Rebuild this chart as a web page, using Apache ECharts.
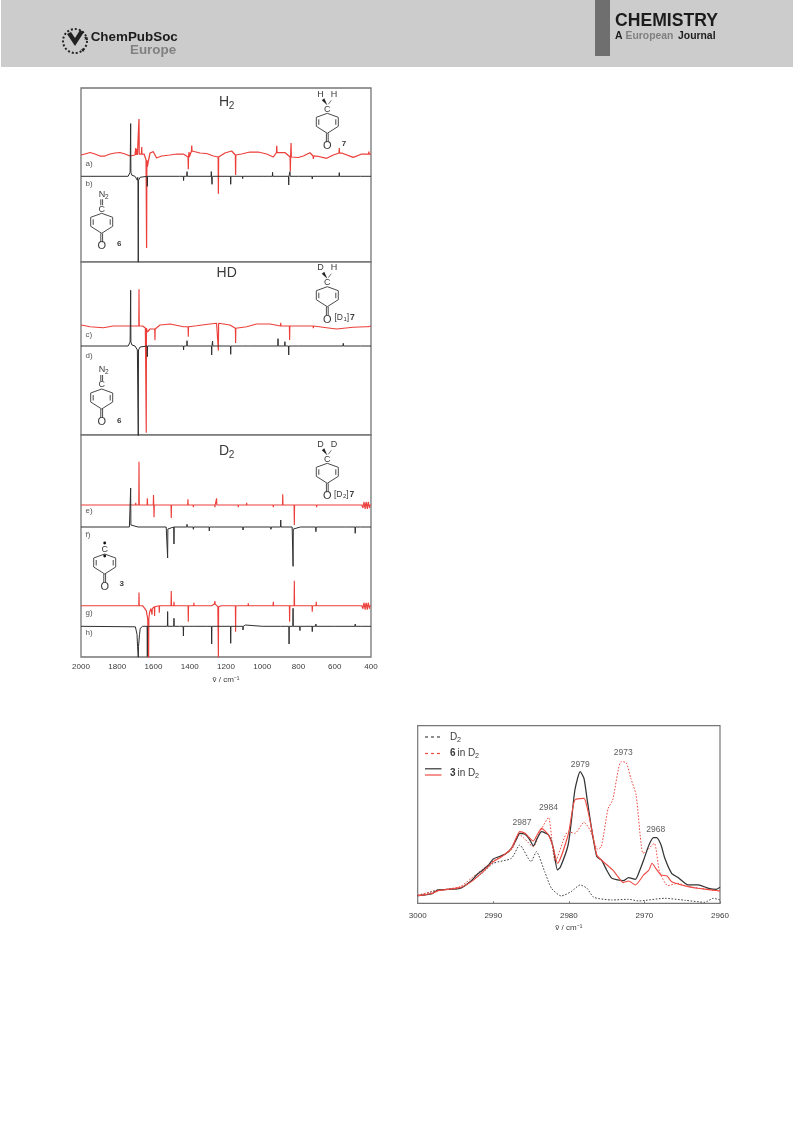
<!DOCTYPE html>
<html><head><meta charset="utf-8">
<style>html,body{margin:0;padding:0;background:#fff}#c{width:793px;height:1121px;filter:blur(0.35px)}</style>
<script src="https://cdn.jsdelivr.net/npm/echarts@6/dist/echarts.min.js"></script></head>
<body><div id="c"></div>
<script>
// ---------- Left spectra: wavenumber (cm-1) vs. band height. [wn, h] ----------
const flat = [[2000,0],[1500,0],[1000,0],[400,0]];
const aBase = [[2000,0],[1978,1],[1950,2.5],[1923,1],[1895,-1],[1868,-1],[1840,1],[1812,2],[1785,2.5],[1757,1],[1730,-1],[1702,0],[1665,1],[1652,1],[1641,-5],[1634,-12],[1627,-5],[1619,2],[1601,3.3],[1583,-3],[1555,-1],[1509,0],[1472,1],[1435,1],[1408,-2],[1380,4],[1343,2],[1307,1.5],[1270,-1],[1242,-2],[1206,2],[1169,4],[1141,0],[1114,1],[1068,3],[1022,3],[976,1],[939,-2],[911,2.5],[875,2.5],[838,-2],[801,-2.5],[773,-1],[737,2.3],[700,-1],[645,-3.3],[608,0],[562,2],[498,-2.3],[442,1],[400,1]];
const aPeaks = [[1698,7],[1690,6],[1680,35],[1665,7],[1638,-88],[1408,-12.3],[1404,5],[1389,5.5],[1242,-36.7],[1147,-20],[920,6.7],[845,-14.3],[841,14],[718,-3],[575,5],[450,2],[430,-2],[412,2.5]];
const bBase = [[2000,0],[1740,0],[1733,1],[1729,4],[1723,4],[1719,1],[1712,0],[1702,0],[1694,-1],[1689,-4],[1679,-4],[1674,-1],[1665,0],[1200,0],[800,0],[400,0]];
const bPeaks = [[1726,48.7],[1687,3],[1684,-82],[1634,-10],[1454,-2],[1434,-4.3],[1426,2],[1415,4.7],[1281,4.7],[1277,-8],[1196,1],[1174,-8],[1171,-1.3],[1108,-2.3],[994,1],[966,0.9],[943,4],[884,1.7],[854,-8.7],[847,4.7],[792,-2],[724,-2.7],[696,-1.3],[575,3.7],[498,-1],[457,1.7],[415,-0.9]];
const cBase = [[2000,1],[1950,-0.7],[1877,-1.7],[1822,0],[1730,0],[1660,0],[1645,-2],[1634,-6],[1619,-3],[1564,1],[1509,2],[1435,-0.7],[1362,0.3],[1288,2],[1252,2.7],[1178,1],[1141,-2.3],[1086,-0.7],[1031,2],[957,2],[884,0],[810,0],[737,0],[645,-1.7],[590,-3],[498,-1.3],[424,-0.7],[400,0]];
const cPeaks = [[1680,36.7],[1640,-104.7],[1592,-11.3],[1408,-10],[1242,-27.3],[1147,-14.7],[898,3.3],[871,1.2],[849,-14],[718,-2.3],[430,-1.5],[415,1]];
const dBase = bBase.map(p=>p);
const dPeaks = [[1726,51.7],[1684,-86.7],[1634,-10.7],[1454,-1.3],[1434,-4],[1415,5.3],[1279,-9],[1274,5],[1196,1],[1174,-8.3],[1171,-0.9],[1108,-1.3],[1068,1],[961,0.9],[913,7.3],[875,4.3],[854,-9],[847,1],[828,0.9],[792,-0.9],[724,-1.3],[553,2.7],[498,-1],[457,1.7],[415,-0.9]];
const ePeaks = [[1698,2.3],[1680,43.3],[1634,6.7],[1600,10],[1597,-12.3],[1502,-13],[1410,5.7],[1380,-2.3],[1292,1],[1261,-2.3],[1252,6.7],[1174,1],[1132,-2.3],[1086,2.3],[939,-2.3],[887,10.7],[823,-20],[700,-2.3],[534,1],[450,2],[444,-3],[438,3],[432,-4],[426,3],[420,-4],[414,3],[408,-3]];
const fBase = [[2000,0],[1733,0],[1729,2],[1723,2],[1719,0],[1530,0],[1526,-2],[1518,-2],[1514,0],[1200,0],[835,0],[833,-2],[827,-2],[824,0],[400,0]];
const fPeaks = [[1726,37],[1684,1.7],[1522,-29],[1487,-17],[1415,2.7],[1380,-2.3],[1292,-4],[1264,2],[1106,-3],[1055,2],[952,-2.3],[898,7],[830,-37.3],[788,-1.3],[704,-4.7],[538,1.7],[487,-6.3],[456,1],[415,-1.7]];
const gBase = [[2000,0],[1660,0],[1650,-1],[1640,-5],[1632,-13],[1622,-7],[1615,-3],[1600,-1],[1560,0],[1280,0],[1265,1.5],[1245,-1],[1225,0],[1000,0],[400,0]];
const gPeaks = [[1680,13.3],[1627,-51],[1608,-6],[1594,-9.3],[1568,-7],[1502,14.7],[1487,4],[1456,-1.5],[1408,-16],[1377,3],[1261,3],[1242,-51],[1147,-26],[1077,2.3],[939,4],[884,1.7],[849,-16],[823,25],[724,-6],[702,4],[530,1],[450,2],[444,-3],[438,3],[432,-4],[426,3],[420,-4],[414,3],[408,-3]];
const hBase = [[2000,0],[1700,-0.5],[1695,-2],[1691,-8],[1688,-20],[1680,-20],[1677,-8],[1673,-2],[1668,-0.5],[1660,0],[1300,0],[1000,0],[900,0],[600,0],[400,0]];
const hPeaks = [[1684,-11],[1634,-30.3],[1522,14.7],[1487,8],[1456,-2],[1435,-9.7],[1402,-1.2],[1380,1],[1279,-17.7],[1174,-17],[1106,-3.7],[1093,1.3],[852,-17.7],[830,18],[792,-4.3],[724,-5.3],[704,2.3],[487,2.3],[452,1.3],[415,-1]];

// ---------- Right spectra: [wavenumber, intensity] ----------
const d2Only = [[3000,23],[2997.3,40],[2994.4,45],[2991.5,90],[2990,120],[2987.6,135],[2986.5,175],[2985,125],[2984.3,155],[2983.2,95],[2982.3,45],[2981,22],[2979.7,35],[2978.5,55],[2977.6,45],[2976.7,18],[2974.3,10],[2972.1,12],[2970.8,7],[2967.3,15],[2964.6,9],[2962,3],[2960.9,15],[2960,10]];
const six = [[3000,25],[2997.3,38],[2994.4,50],[2992.9,75],[2990,127],[2987.6,160],[2986.5,205],[2984.7,170],[2983.8,215],[2982.7,258],[2981.8,125],[2980.1,215],[2979.2,210],[2978,243],[2977.2,220],[2976.2,162],[2975.7,170],[2974.8,285],[2974.2,310],[2973.1,425],[2972.4,422],[2971.8,375],[2971.1,325],[2970.2,150],[2969.8,155],[2968.7,180],[2968,95],[2966.9,53],[2965.6,60],[2964.2,50],[2960,37]];
const threeBlack = [[3000,23],[2999,25],[2998,30],[2997.3,40],[2994.4,45],[2992.9,68],[2992.2,85],[2991.5,98],[2990.6,115],[2990,133],[2989,142],[2988.4,148],[2987.6,165],[2987,190],[2986.5,210],[2985.8,207],[2985.2,192],[2984.7,172],[2984.2,195],[2983.6,215],[2982.7,205],[2982.1,170],[2981.5,100],[2981.1,110],[2980.1,175],[2979.6,260],[2979.2,340],[2978.5,395],[2978,375],[2977.6,315],[2977,225],[2976.3,140],[2975.7,130],[2975,100],[2974.3,75],[2972.8,68],[2972.1,77],[2971.2,72],[2970.6,100],[2970.1,130],[2969.4,175],[2968.8,197],[2968.4,197],[2967.8,175],[2967.3,135],[2966.4,90],[2965.6,78],[2964.2,55],[2963.6,55],[2962.9,55],[2961.5,45],[2960.5,42],[2960,48]];
const threeRed = [[3000,23],[2999,26],[2998,30],[2997.3,38],[2994.4,47],[2992.9,65],[2991.5,92],[2990,125],[2989,138],[2987.6,165],[2987,195],[2986.5,215],[2985.8,210],[2984.7,187],[2984.2,205],[2983.6,225],[2982.7,205],[2982.1,170],[2981.5,120],[2980.1,205],[2979.6,270],[2979.2,310],[2978,315],[2977.6,290],[2977,225],[2976.3,145],[2975.7,130],[2974.2,100],[2973.5,80],[2972.8,62],[2972.1,67],[2971.2,55],[2970.1,85],[2969.4,100],[2969,120],[2968.5,105],[2967.8,85],[2967,82],[2966.4,65],[2964.2,50],[2962.9,45],[2960,37]];
const peakLabels = [[2986.2,242,'2987'],[2982.7,287,'2984'],[2978.5,417,'2979'],[2972.8,452,'2973'],[2968.5,222,'2968']];
const ticksLeft = [2000,1800,1600,1400,1200,1000,800,600,400];
const ticksRight = [3000,2990,2980,2970,2960];

// ---------- Build line data from read band lists ----------
function nearest(base, x){let b=base[0];for(const p of base){if(Math.abs(p[0]-x)<Math.abs(b[0]-x))b=p;}return b[1];}
function trace(base, peaks, offset){
  const hw=1.3, pts=base.map(p=>[p[0],p[1]+offset]);
  for(const p of peaks){
    const foot=nearest(base,p[0])+offset;
    pts.push([p[0]+hw,foot],[p[0],foot+p[1]],[p[0]-hw,foot]);
  }
  return pts.sort((u,v)=>v[0]-u[0]);
}
const RED='#ec3f3a', BLK='#2f2f2f', AX='#757575';
const panels=[{top:88,h:174},{top:262,h:173},{top:435,h:222}];
const traces=[
 {p:0,base:aBase,peaks:aPeaks,off:107,c:RED,w:1.25},
 {p:0,base:bBase,peaks:bPeaks,off:85.7,c:BLK,w:1},
 {p:1,base:cBase,peaks:cPeaks,off:109,c:RED,w:1.15},
 {p:1,base:dBase,peaks:dPeaks,off:89,c:BLK,w:1},
 {p:2,base:flat,peaks:ePeaks,off:152,c:RED,w:1.15},
 {p:2,base:fBase,peaks:fPeaks,off:130,c:BLK,w:1},
 {p:2,base:gBase,peaks:gPeaks,off:51.3,c:RED,w:1.15},
 {p:2,base:hBase,peaks:hPeaks,off:30.7,c:BLK,w:1}
];
const FONT='"Liberation Sans",Arial,sans-serif';
const TXT='#3a3a3a';
const fmt=v=>String(v);
const grid=panels.map(p=>({left:81,width:290,top:p.top,height:p.h,show:true,borderColor:AX,borderWidth:1.3,backgroundColor:'#fff'}));
grid.push({left:417.7,width:302.3,top:725.7,height:177.6,show:true,borderColor:AX,borderWidth:1.2,backgroundColor:'#fff'});
const xAxis=panels.map((p,i)=>({gridIndex:i,type:'value',min:400,max:2000,interval:200,inverse:true,
  axisTick:{show:false},splitLine:{show:false},axisLine:{show:false},
  axisLabel:{show:i===2,fontFamily:FONT,fontSize:8,color:TXT,margin:6,formatter:fmt,customValues:ticksLeft},
  name:i===2?'ṽ / cm⁻¹':'',nameLocation:'middle',nameGap:19,nameTextStyle:{fontFamily:FONT,fontSize:8,color:TXT}}));
xAxis.push({gridIndex:3,type:'value',min:2960,max:3000,interval:10,inverse:true,
  axisTick:{show:true,inside:true,length:2,lineStyle:{color:AX}},splitLine:{show:false},axisLine:{show:false},
  axisLabel:{fontFamily:FONT,fontSize:8,color:TXT,margin:8,formatter:fmt,customValues:ticksRight},
  name:'ṽ / cm⁻¹',nameLocation:'middle',nameGap:20,nameTextStyle:{fontFamily:FONT,fontSize:8,color:TXT}});
const yAxis=panels.map((p,i)=>({gridIndex:i,type:'value',min:0,max:p.h,show:false}));
yAxis.push({gridIndex:3,type:'value',min:0,max:533,show:false});
const line=(i,data,c,w,dash,smooth)=>({type:'line',xAxisIndex:i,yAxisIndex:i,data,showSymbol:false,symbol:'none',silent:true,smooth:smooth||false,
  clip:true,lineStyle:{color:c,width:w,type:dash||'solid'},z:3});
const series=traces.map(t=>line(t.p,trace(t.base,t.peaks,t.off),t.c,t.w));
series.push(line(3,d2Only,'#444',1,[1.6,1.6],0.2));
series.push(line(3,six,'#ee4a42',1,[1.6,1.6],0.2));
series.push(line(3,threeBlack,'#333',1.25,'solid',0.2));
series.push(line(3,threeRed,'#ee4a42',1.1,'solid',0.2));
series.push({type:'scatter',xAxisIndex:3,yAxisIndex:3,symbolSize:0,silent:true,z:5,
  data:peakLabels.map(p=>({value:[p[0],p[1]],label:{show:true,formatter:p[2],position:'inside',fontFamily:FONT,fontSize:8.5,color:'#333'}}))});

// ---------- Decorative page furniture and formula drawings ----------
const G=[];
const T=(x,y,text,font,fill,align)=>G.push({type:'text',z:20,style:{x,y,text,font,fill:fill||TXT,textAlign:align||'left',textVerticalAlign:'middle'}});
const L=(x1,y1,x2,y2,w,c)=>G.push({type:'line',z:20,shape:{x1,y1,x2,y2},style:{stroke:c||'#4a4a4a',lineWidth:w||1}});
G.push({type:'rect',z:1,shape:{x:1,y:0,width:792,height:67},style:{fill:'#cccccc'}});
G.push({type:'rect',z:2,shape:{x:595,y:0,width:15,height:56},style:{fill:'#6f6f6f'}});
T(615,21,'CHEMISTRY','bold 17.6px '+FONT,'#1c1c1c');
T(615,36,'A','bold 10.4px '+FONT,'#1c1c1c');
T(625.5,36,'European','bold 10.4px '+FONT,'#808080');
T(678,36,'Journal','bold 10.4px '+FONT,'#1c1c1c');
T(90.7,37.7,'ChemPubSoc','bold 13.4px '+FONT,'#1c1c1c');
T(130,50.7,'Europe','bold 13.4px '+FONT,'#808080');
G.push({type:'circle',z:5,shape:{cx:75,cy:41,r:12},style:{fill:'none',stroke:'#222',lineWidth:2,lineDash:[2,2]}});
G.push({type:'polygon',z:6,shape:{points:[[67,34],[75,46],[84,32],[80,30],[75,38],[71,32]]},style:{fill:'#222'}});
T(86,38,'★','6px "DejaVu Sans"','#222','center');
T(83,50,'★','6px "DejaVu Sans"','#222','center');

function ring(cx,cy){ // cy = centre of the "C" atom
  const t=cy+4,u=cy+8,l=cy+17,b=cy+24,w=11;
  L(cx,t,cx+w,u);L(cx+w,u,cx+w,l);L(cx+w,l,cx,b);L(cx,b,cx-w,l);L(cx-w,l,cx-w,u);L(cx-w,u,cx,t);
  L(cx+8.5,u+2,cx+8.5,l-1.5);L(cx-8.5,u+2,cx-8.5,l-1.5);
  L(cx-0.9,b,cx-0.9,cy+33);L(cx+0.9,b,cx+0.9,cy+33);
  T(cx,cy,'C','9px '+FONT,TXT,'center');
  T(cx,cy+37,'O','11px '+FONT,TXT,'center');
}
function sub(x,y,main,s,size){const f=size||8;T(x,y,main,f+'px '+FONT,TXT);T(x+main.length*f*0.7,y+f*0.3,s,(f*0.72)+'px '+FONT,TXT);}
function top2(cx,cy,a,b){
  G.push({type:'polygon',z:20,shape:{points:[[cx,cy-4],[cx-5.5,cy-9],[cx-3,cy-11]]},style:{fill:'#222'}});
  L(cx+1,cy-5,cx+4,cy-9,1,'#777');
  T(cx-6.7,cy-15,a,'9px '+FONT,TXT,'center');
  T(cx+6.7,cy-15,b,'9px '+FONT,TXT,'center');
}
function diazo(cx,cy,ly){
  ring(cx,cy);L(cx-0.9,cy-4,cx-0.9,cy-10);L(cx+0.9,cy-4,cx+0.9,cy-10);
  sub(cx-3,cy-15,'N','2',9);
  T(cx+17.5,ly,'6','bold 8px '+FONT,TXT,'center');
}
// panel 1
sub(219,102,'H','2',14);
ring(327.3,109.3);top2(327.3,109.3,'H','H');
T(344,143.5,'7','bold 8px '+FONT,TXT,'center');
diazo(101.7,209.3,244);
// panel 2
T(226.7,273.5,'HD','14px '+FONT,TXT,'center');
ring(327.3,282.7);top2(327.3,282.7,'D','H');
T(334.5,317.3,'[D','8.5px '+FONT,TXT);T(343.5,319,'1','6px '+FONT,TXT);T(346.8,317.3,']','8.5px '+FONT,TXT);T(350,317.3,'7','bold 8.5px '+FONT,TXT);
diazo(101.7,385,420.7);
// panel 3
sub(219,451,'D','2',14);
ring(327.3,459.3);top2(327.3,459.3,'D','D');
T(334,494.5,'[D','8.5px '+FONT,TXT);T(343,496.2,'2','6px '+FONT,TXT);T(346.3,494.5,']','8.5px '+FONT,TXT);T(349.5,494.5,'7','bold 8.5px '+FONT,TXT);
ring(104.7,550);
G.push({type:'circle',z:21,shape:{cx:104.7,cy:543,r:1.4},style:{fill:'#111'}});
G.push({type:'circle',z:21,shape:{cx:104.7,cy:556,r:1.4},style:{fill:'#111'}});
T(121.7,584,'3','bold 8px '+FONT,TXT,'center');
// trace letters
[['a)',164],['b)',184],['c)',335],['d)',356],['e)',511],['f)',534.3],['g)',613],['h)',632.7]].forEach(a=>T(85.5,a[1],a[0],'8px '+FONT,'#555'));
// right legend
const lx1=425,lx2=441.5,tx=450;
G.push({type:'line',z:20,shape:{x1:lx1,y1:737,x2:lx2,y2:737},style:{stroke:'#444',lineWidth:1.2,lineDash:[3,3]}});
G.push({type:'line',z:20,shape:{x1:lx1,y1:753.5,x2:lx2,y2:753.5},style:{stroke:'#ee4a42',lineWidth:1.2,lineDash:[3,3]}});
L(lx1,768.8,lx2,768.8,1.2,'#333');L(lx1,775,lx2,775,1.2,'#ee4a42');
sub(tx,737,'D','2',10);
T(tx,753.5,'6','bold 10px '+FONT,TXT);T(tx+7.5,753.5,'in','10px '+FONT,TXT);sub(tx+18,753.5,'D','2',10);
T(tx,773.5,'3','bold 10px '+FONT,TXT);T(tx+7.5,773.5,'in','10px '+FONT,TXT);sub(tx+18,773.5,'D','2',10);

const chart=echarts.init(document.getElementById('c'),null,{renderer:'canvas',width:793,height:1121});
chart.setOption({animation:false,backgroundColor:'#fff',grid,xAxis,yAxis,series,graphic:{elements:G}});
</script></body></html>
